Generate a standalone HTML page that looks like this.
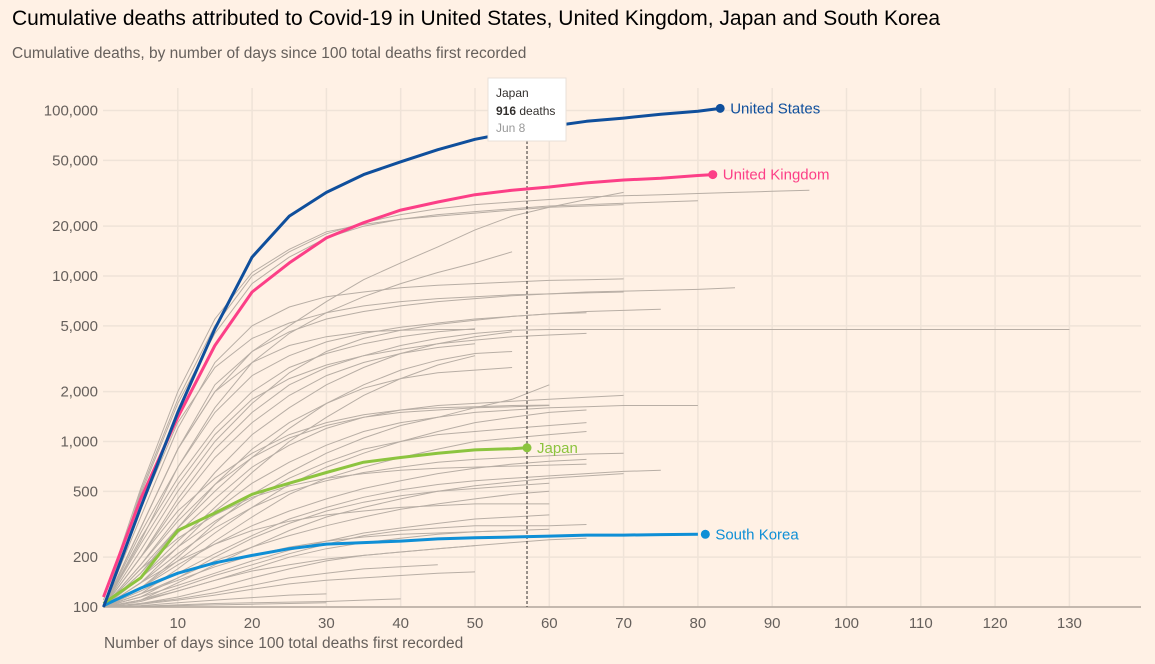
<!DOCTYPE html>
<html><head><meta charset="utf-8">
<style>
html,body{margin:0;padding:0;background:#fff1e5;}
body{width:1155px;height:664px;overflow:hidden;font-family:"Liberation Sans",sans-serif;position:relative;}
#title{position:absolute;left:12px;top:7px;font-size:21px;color:#000;}
#sub{position:absolute;left:12px;top:45px;font-size:15.5px;color:#66605c;}
svg{position:absolute;left:0;top:0;}
</style></head>
<body>
<div id="title">Cumulative deaths attributed to Covid-19 in United States, United Kingdom, Japan and South Korea</div>
<div id="sub">Cumulative deaths, by number of days since 100 total deaths first recorded</div>
<svg id="chart" width="1155" height="664"></svg>
<script>
// values sampled every 5 days starting at day 0
const step = 5;
const xTicks = [10,20,30,40,50,60,70,80,90,100,110,120,130];
const yTicks = [100,200,500,1000,2000,5000,10000,20000,50000,100000];
const yTickLabels = ["100","200","500","1,000","2,000","5,000","10,000","20,000","50,000","100,000"];
const usValues = [100,400,1500,4800,13000,23000,32000,41000,49000,58000,67000,74000,80000,86000,90000,95000,99000,103000];
const ukValues = [115,450,1400,3800,8000,12000,17000,21000,25000,28000,31000,33000,34500,36500,38000,39000,40500,41000];
const japanValues = [105,150,290,370,480,560,650,750,800,850,890,905,916];
const koreaValues = [102,130,160,185,205,225,240,245,250,258,262,265,268,272,272,274,275];
const greyValues = [
 [100,500,1800,5000,10000,14000,18000,21000,23500,25500,27000,28000,29000,30000,30500,31000,31500,32000,32500,33000],
 [100,480,1700,4500,9000,13000,17000,20000,22000,23500,24500,25500,26500,27000,27500,28000,28500],
 [110,520,2000,5500,10500,14500,18500,20500,22000,23000,24000,25000,26000,26500,27000],
 [100,300,900,2000,3500,5000,7000,9500,12000,15000,19000,23000,26000,29000,32000],
 [100,250,700,1600,3000,4500,6000,7500,9000,10500,12000,14000],
 [100,350,1200,3000,5000,6500,7500,8000,8500,8800,9000,9200,9400,9500,9600],
 [100,300,900,2200,3500,4600,5500,6100,6600,7000,7300,7600,7800,8000,8100,8200,8300,8500],
 [100,400,1300,2800,4200,5200,6000,6600,7000,7300,7500,7700,7800,7900,8000],
 [100,280,700,1500,2500,3300,4000,4500,4900,5200,5500,5700,5900,6000],
 [100,220,500,1000,1700,2600,3500,4200,4700,5100,5400,5700,5900,6100,6200,6300],
 [100,200,450,900,1500,2200,2800,3300,3800,4200,4500,4700,4750,4750,4750,4750,4750,4750,4750,4750,4750,4750,4750,4750,4750,4750,4750],
 [100,260,600,1200,2000,2800,3400,3900,4300,4600,4800],
 [100,240,550,1100,1800,2400,2900,3300,3600,3900,4100,4300,4400,4500],
 [100,180,350,650,1100,1600,2200,2800,3400,3900,4300,4600],
 [100,200,420,800,1300,1900,2500,3000,3400,3700,3900],
 [100,170,300,500,800,1200,1700,2200,2700,3100,3400,3500],
 [100,150,250,400,650,1000,1400,1900,2400,2900,3300],
 [100,160,280,450,700,950,1200,1400,1550,1650,1700,1750,1800,1850,1900],
 [100,140,230,380,560,750,950,1150,1300,1400,1500,1550,1600,1620,1650,1650,1650],
 [100,180,330,550,800,1050,1250,1400,1500,1550,1600,1620,1650],
 [100,130,200,320,480,650,850,1050,1250,1400,1600,1800,2200],
 [100,150,230,330,450,600,750,900,1000,1100,1150,1200,1250,1300],
 [100,120,170,250,350,480,600,700,800,900,1000,1050,1100,1150],
 [100,140,210,300,400,500,580,650,700,750,780,800,820,840,850],
 [100,130,180,240,310,380,450,520,580,640,690,730,760,780],
 [100,125,160,210,270,340,400,460,510,550,580,600,620,640,660,670],
 [100,115,150,200,260,320,380,430,470,500,520,540,560],
 [100,120,150,190,230,270,310,350,390,420,450,480,500],
 [100,110,140,180,230,290,350,400,450,500,540,570,600,620,640],
 [100,115,135,160,190,220,250,280,300,320,340,350,360],
 [100,110,130,155,180,210,240,270,290,300,310,310,310,315],
 [100,108,125,145,170,200,225,245,260,275,285,290,295],
 [100,105,115,130,150,170,190,205,215,225,235,245,255,260],
 [100,110,125,145,165,180,195,205,215,225,235],
 [100,105,112,122,135,150,160,170,175,180],
 [100,104,110,118,128,138,145,150,155,160,163],
 [100,102,106,110,114,118,120],
 [100,101,103,105,106,107,108,110,112],
 [100,101,102,103,104,105,106],
 [100,160,300,550,900,1300,1700,2100,2400,2600,2700,2800],
 [100,200,380,600,850,1100,1300,1450,1550,1600,1620,1650,1660],
 [100,130,190,280,400,550,700,850,1000,1150,1300,1400,1500,1550],
 [100,170,260,360,460,540,600,640,670,690,700,710,720,730],
 [100,140,190,240,290,330,360,380,400,410,420,420,420],
 [100,300,900,2000,3000,3800,4300,4600,4700,4750,4750],
 [100,120,145,175,205,230,250,265,275,280,285,290]
];
const tip = {day:57, country:"Japan", value:"916", date:"Jun 8"};

const NS="http://www.w3.org/2000/svg";
const svg=document.getElementById('chart');
const X0=103.5, PX=7.43, Y100=607, DEC=165.5;
const xS=d=>X0+d*PX;
const yS=v=>Y100-Math.log10(v/100)*DEC;
function mk(tag,attrs,parent){const e=document.createElementNS(NS,tag);for(const k in attrs)e.setAttribute(k,attrs[k]);(parent||svg).appendChild(e);return e;}

yTicks.forEach((t,i)=>{
  const l=mk('line',{x1:103,x2:1141,y1:yS(t),y2:yS(t),stroke:'#efe3d8','stroke-width':1.5});
  
  
  const tx=mk('text',{x:98,y:yS(t)+5,'text-anchor':'end','font-size':15,fill:'#66605c'});
  tx.textContent=yTickLabels[i];
  
  
});
xTicks.forEach(t=>{
  const l=mk('line',{x1:xS(t),x2:xS(t),y1:88,y2:607,stroke:'#efe3d8','stroke-width':1.5});
  
  
  const tx=mk('text',{x:xS(t),y:628,'text-anchor':'middle','font-size':15,fill:'#66605c'});
  tx.textContent=t;
  
  
});
const base=mk('line',{x1:103,x2:1141,y1:607,y2:607,stroke:'#b3a89e','stroke-width':1.5});


const xt=mk('text',{x:104,y:648,'font-size':15.5,fill:'#66605c'});
xt.textContent='Number of days since 100 total deaths first recorded';



function path(vals){return vals.map((v,i)=>(i?'L':'M')+xS(i*step).toFixed(1)+','+yS(v).toFixed(1)).join('');}

greyValues.forEach(vals=>{
  const p=mk('path',{d:path(vals),fill:'none',stroke:'#b8aea5','stroke-width':1});
  
  
});

const dl=mk('line',{x1:xS(tip.day),x2:xS(tip.day),y1:141,y2:607,stroke:'#33302e','stroke-width':1,'stroke-dasharray':'3,2'});



function series(vals,color,name,label,ldx,lastDay){
  const d=vals.map((v,i)=>{const day=Math.min(i*step,lastDay);return (i?'L':'M')+xS(day).toFixed(1)+','+yS(v).toFixed(1);}).join('');
  const p=mk('path',{d:d,fill:'none',stroke:color,'stroke-width':3,'stroke-linejoin':'round'});
  
  
  const ex=xS(lastDay), ey=yS(vals[vals.length-1]);
  const c=mk('circle',{cx:ex,cy:ey,r:4.5,fill:color});
  
  
  const t=mk('text',{x:ex+ldx,y:ey+5,'font-size':15,fill:color});
  t.textContent=label;
  
  
}
series(koreaValues,'#0f8fd6','south-korea','South Korea',10,81);
series(japanValues,'#8cc43f','japan','Japan',10,57);
series(ukValues,'#fc3f87','united-kingdom','United Kingdom',10,82);
series(usValues,'#0f4f9c','united-states','United States',10,83);

const g=mk('g',{});


mk('rect',{x:488,y:78,width:78,height:63,fill:'#ffffff',stroke:'#e8e0d8'},g);
const t1=mk('text',{x:496,y:97,'font-size':12,fill:'#33302e'},g);t1.textContent=tip.country;
const t2=mk('text',{x:496,y:115,'font-size':12,fill:'#33302e'},g);
const b=mk('tspan',{'font-weight':'bold'},t2);b.textContent=tip.value;
const r=mk('tspan',{},t2);r.textContent=' deaths';
const t3=mk('text',{x:496,y:132,'font-size':12,fill:'#999'},g);t3.textContent=tip.date;
</script>
</body></html>
